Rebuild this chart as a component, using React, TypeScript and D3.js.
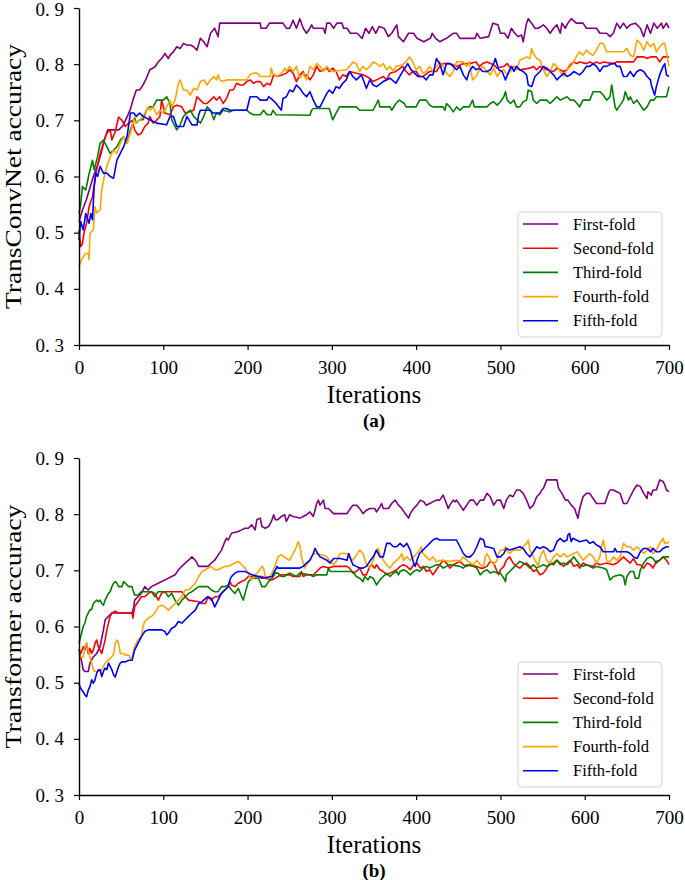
import React, { useEffect, useRef } from "react";
import * as d3 from "d3";

// ---- data: [iteration, accuracy] ----

const foldNames = ["First-fold", "Second-fold", "Third-fold", "Fourth-fold", "Fifth-fold"];
const foldColors = ["#800080", "#ff0000", "#008000", "#ffa500", "#0000ff"];
const xTicks = [0, 100, 200, 300, 400, 500, 600, 700];
const yTicks = [0.3, 0.4, 0.5, 0.6, 0.7, 0.8, 0.9];

// (a) TransConvNet
const convFirst = [[0,0.52],[4,0.54],[9,0.56],[13,0.58],[17,0.6],[22,0.62],[26,0.64],[30,0.665],[34,0.683],[47,0.683],[52,0.69],[57,0.706],[61,0.72],[64,0.736],[68,0.754],[72,0.754],[76,0.763],[80,0.775],[84,0.79],[90,0.795],[94,0.804],[98,0.81],[102,0.819],[106,0.81],[108,0.816],[112,0.822],[116,0.831],[120,0.828],[124,0.837],[128,0.834],[132,0.834],[136,0.831],[140,0.825],[144,0.846],[148,0.84],[152,0.831],[156,0.855],[161,0.864],[165,0.849],[167,0.873],[215,0.873],[216,0.864],[222,0.864],[226,0.873],[242,0.873],[246,0.864],[250,0.864],[254,0.878],[258,0.864],[262,0.881],[266,0.864],[270,0.855],[274,0.864],[276,0.87],[278,0.864],[290,0.864],[292,0.855],[294,0.873],[298,0.873],[302,0.864],[306,0.873],[312,0.873],[314,0.864],[318,0.864],[322,0.855],[330,0.855],[336,0.846],[340,0.864],[344,0.855],[348,0.867],[352,0.855],[356,0.867],[362,0.864],[367,0.849],[371,0.855],[377,0.87],[379,0.849],[385,0.84],[391,0.855],[397,0.855],[401,0.846],[409,0.84],[417,0.846],[419,0.855],[423,0.846],[428,0.84],[436,0.846],[444,0.855],[448,0.855],[452,0.846],[470,0.846],[472,0.855],[476,0.846],[486,0.849],[491,0.873],[497,0.87],[500,0.855],[505,0.855],[509,0.846],[513,0.864],[517,0.855],[521,0.849],[525,0.852],[527,0.84],[531,0.873],[533,0.881],[537,0.873],[541,0.864],[545,0.864],[551,0.87],[555,0.864],[559,0.855],[563,0.864],[567,0.87],[571,0.855],[573,0.873],[577,0.864],[580,0.873],[584,0.881],[590,0.873],[598,0.873],[602,0.864],[614,0.864],[618,0.855],[626,0.855],[630,0.849],[634,0.855],[638,0.873],[642,0.864],[646,0.873],[650,0.864],[654,0.87],[660,0.873],[666,0.864],[670,0.849],[674,0.87],[678,0.855],[682,0.873],[686,0.864],[691,0.873],[693,0.864],[697,0.873],[700,0.864]];
const convSecond = [[0,0.505],[2,0.475],[4,0.48],[6,0.5],[9,0.517],[12,0.546],[16,0.564],[20,0.605],[25,0.64],[29,0.66],[33,0.677],[37,0.683],[39,0.665],[43,0.68],[47,0.706],[51,0.7],[55,0.689],[59,0.695],[63,0.7],[66,0.683],[70,0.674],[74,0.677],[78,0.689],[82,0.695],[84,0.707],[88,0.695],[92,0.7],[96,0.707],[98,0.736],[102,0.713],[108,0.71],[112,0.724],[116,0.727],[122,0.724],[126,0.713],[130,0.715],[136,0.718],[140,0.742],[144,0.736],[148,0.73],[152,0.73],[156,0.736],[160,0.742],[163,0.736],[167,0.742],[171,0.73],[175,0.739],[179,0.754],[183,0.754],[187,0.766],[191,0.763],[195,0.763],[199,0.769],[203,0.772],[207,0.766],[211,0.769],[215,0.769],[219,0.76],[223,0.766],[227,0.763],[231,0.781],[235,0.778],[242,0.781],[246,0.784],[250,0.79],[254,0.784],[258,0.769],[260,0.775],[262,0.781],[266,0.787],[268,0.778],[270,0.781],[274,0.772],[278,0.781],[282,0.796],[286,0.787],[290,0.79],[294,0.793],[297,0.787],[301,0.793],[305,0.787],[309,0.772],[313,0.781],[317,0.778],[321,0.787],[329,0.784],[337,0.781],[341,0.778],[345,0.775],[349,0.769],[353,0.772],[361,0.778],[365,0.772],[369,0.784],[376,0.787],[384,0.796],[388,0.787],[392,0.781],[396,0.787],[400,0.787],[404,0.778],[408,0.778],[416,0.787],[424,0.787],[428,0.796],[432,0.801],[440,0.801],[448,0.796],[456,0.801],[463,0.801],[471,0.804],[475,0.796],[479,0.801],[484,0.804],[492,0.799],[496,0.793],[504,0.796],[508,0.801],[512,0.793],[516,0.796],[523,0.79],[535,0.793],[539,0.796],[543,0.79],[547,0.796],[555,0.79],[563,0.787],[567,0.793],[575,0.787],[579,0.79],[583,0.799],[587,0.804],[591,0.801],[594,0.804],[602,0.801],[606,0.804],[610,0.801],[614,0.804],[618,0.801],[622,0.804],[634,0.801],[638,0.804],[658,0.804],[662,0.813],[670,0.813],[674,0.81],[678,0.813],[685,0.813],[689,0.804],[693,0.813],[700,0.813]];
const convThird = [[0,0.534],[2,0.55],[4,0.582],[8,0.576],[12,0.605],[16,0.629],[18,0.612],[22,0.635],[25,0.659],[29,0.665],[33,0.653],[37,0.641],[41,0.647],[45,0.653],[49,0.665],[53,0.671],[57,0.659],[61,0.683],[64,0.695],[66,0.704],[68,0.695],[72,0.701],[76,0.701],[80,0.718],[84,0.724],[88,0.724],[92,0.736],[100,0.736],[104,0.742],[106,0.736],[108,0.73],[110,0.701],[112,0.695],[116,0.683],[120,0.692],[124,0.707],[128,0.713],[132,0.718],[136,0.707],[140,0.701],[144,0.695],[148,0.707],[152,0.724],[156,0.718],[160,0.701],[163,0.713],[167,0.71],[171,0.718],[179,0.715],[183,0.718],[199,0.718],[203,0.713],[207,0.71],[215,0.71],[219,0.718],[223,0.71],[228,0.71],[230,0.718],[234,0.71],[274,0.709],[276,0.718],[278,0.721],[297,0.721],[301,0.701],[305,0.713],[309,0.724],[329,0.724],[333,0.718],[349,0.718],[353,0.73],[355,0.736],[357,0.724],[369,0.724],[371,0.718],[376,0.73],[380,0.736],[386,0.73],[388,0.724],[400,0.724],[404,0.736],[412,0.736],[416,0.727],[420,0.724],[432,0.724],[434,0.718],[436,0.73],[440,0.724],[444,0.715],[448,0.724],[452,0.718],[456,0.724],[463,0.724],[467,0.736],[469,0.724],[484,0.724],[488,0.73],[492,0.733],[496,0.727],[500,0.733],[504,0.742],[506,0.751],[508,0.736],[512,0.73],[516,0.736],[519,0.724],[523,0.724],[527,0.733],[531,0.736],[533,0.754],[537,0.751],[539,0.736],[543,0.73],[547,0.736],[555,0.736],[559,0.73],[563,0.736],[567,0.742],[571,0.736],[579,0.742],[583,0.736],[587,0.736],[591,0.73],[594,0.724],[598,0.736],[606,0.736],[610,0.751],[618,0.751],[622,0.745],[626,0.736],[630,0.742],[632,0.763],[636,0.724],[638,0.718],[642,0.727],[646,0.736],[648,0.751],[652,0.736],[654,0.742],[658,0.73],[662,0.736],[666,0.727],[670,0.718],[674,0.724],[678,0.736],[682,0.736],[685,0.742],[697,0.742],[700,0.76]];
const convFourth = [[0,0.44],[3,0.452],[5,0.457],[8,0.463],[11,0.463],[12,0.452],[13,0.499],[17,0.505],[19,0.546],[21,0.535],[25,0.54],[27,0.576],[30,0.6],[33,0.618],[37,0.635],[41,0.647],[45,0.641],[49,0.659],[53,0.671],[57,0.659],[61,0.677],[65,0.701],[68,0.695],[72,0.701],[76,0.707],[80,0.718],[82,0.724],[84,0.718],[88,0.724],[92,0.71],[96,0.718],[100,0.713],[104,0.724],[108,0.736],[110,0.724],[114,0.736],[118,0.766],[120,0.772],[124,0.754],[128,0.754],[132,0.745],[136,0.757],[140,0.754],[144,0.769],[148,0.772],[152,0.763],[156,0.772],[160,0.778],[163,0.772],[165,0.781],[167,0.772],[171,0.769],[175,0.772],[199,0.772],[203,0.781],[207,0.784],[211,0.784],[215,0.778],[227,0.778],[228,0.793],[230,0.784],[234,0.778],[238,0.781],[242,0.787],[244,0.793],[246,0.787],[250,0.796],[254,0.787],[258,0.796],[262,0.775],[266,0.784],[270,0.772],[274,0.796],[278,0.79],[282,0.801],[286,0.796],[290,0.787],[294,0.796],[297,0.79],[301,0.787],[317,0.79],[321,0.796],[325,0.804],[329,0.801],[333,0.787],[337,0.796],[341,0.79],[345,0.796],[349,0.804],[353,0.801],[357,0.796],[361,0.801],[365,0.79],[369,0.796],[373,0.787],[376,0.796],[384,0.799],[388,0.804],[392,0.813],[396,0.804],[400,0.79],[404,0.796],[408,0.784],[412,0.787],[416,0.796],[420,0.787],[424,0.796],[428,0.804],[432,0.796],[436,0.784],[440,0.778],[444,0.787],[448,0.804],[456,0.804],[460,0.796],[463,0.804],[467,0.772],[471,0.778],[475,0.79],[479,0.796],[484,0.787],[488,0.781],[492,0.793],[496,0.778],[500,0.787],[504,0.79],[508,0.781],[512,0.787],[516,0.796],[519,0.79],[523,0.807],[527,0.81],[531,0.813],[535,0.81],[537,0.828],[539,0.819],[543,0.81],[547,0.807],[551,0.79],[555,0.778],[559,0.787],[563,0.801],[567,0.796],[571,0.787],[575,0.778],[579,0.79],[583,0.796],[587,0.804],[591,0.816],[594,0.822],[598,0.816],[602,0.825],[606,0.819],[610,0.816],[614,0.825],[618,0.837],[622,0.837],[626,0.822],[646,0.822],[650,0.828],[654,0.816],[658,0.813],[662,0.843],[666,0.837],[670,0.825],[674,0.84],[678,0.831],[682,0.837],[685,0.822],[689,0.831],[693,0.837],[695,0.837],[697,0.822],[700,0.796]];
const convFifth = [[0,0.487],[2,0.52],[5,0.505],[8,0.534],[12,0.517],[14,0.534],[16,0.523],[18,0.582],[20,0.606],[22,0.6],[25,0.618],[29,0.606],[33,0.606],[37,0.6],[41,0.597],[45,0.629],[49,0.641],[53,0.653],[57,0.671],[61,0.713],[65,0.713],[68,0.707],[72,0.713],[76,0.707],[84,0.701],[92,0.695],[104,0.692],[108,0.707],[112,0.707],[116,0.689],[124,0.689],[128,0.707],[134,0.692],[140,0.692],[142,0.71],[144,0.718],[155,0.718],[159,0.713],[167,0.713],[171,0.721],[175,0.721],[179,0.718],[199,0.718],[203,0.742],[211,0.742],[215,0.736],[223,0.736],[225,0.742],[230,0.736],[234,0.73],[240,0.718],[242,0.739],[246,0.742],[250,0.754],[254,0.751],[258,0.763],[262,0.757],[266,0.748],[270,0.742],[274,0.751],[278,0.736],[282,0.724],[286,0.724],[290,0.736],[294,0.748],[297,0.754],[301,0.748],[305,0.76],[309,0.757],[313,0.766],[317,0.772],[321,0.787],[325,0.778],[329,0.772],[335,0.781],[341,0.757],[345,0.772],[349,0.763],[353,0.76],[361,0.769],[369,0.775],[376,0.766],[384,0.787],[390,0.801],[394,0.79],[398,0.784],[402,0.778],[408,0.778],[412,0.772],[416,0.781],[420,0.781],[424,0.81],[428,0.801],[432,0.781],[436,0.801],[440,0.801],[444,0.796],[448,0.79],[452,0.796],[456,0.781],[460,0.772],[463,0.787],[467,0.796],[471,0.79],[475,0.793],[479,0.787],[484,0.787],[488,0.79],[492,0.801],[494,0.81],[498,0.79],[502,0.787],[506,0.772],[510,0.787],[513,0.796],[516,0.787],[519,0.796],[523,0.79],[527,0.787],[531,0.781],[533,0.763],[537,0.76],[541,0.778],[547,0.787],[551,0.796],[555,0.793],[559,0.787],[563,0.781],[567,0.772],[571,0.778],[575,0.784],[579,0.778],[583,0.781],[587,0.787],[594,0.781],[598,0.787],[602,0.796],[606,0.796],[610,0.801],[614,0.796],[618,0.787],[622,0.796],[626,0.796],[632,0.801],[636,0.801],[638,0.796],[642,0.796],[646,0.778],[650,0.778],[654,0.787],[658,0.778],[662,0.787],[666,0.79],[670,0.787],[674,0.778],[678,0.772],[679,0.763],[681,0.754],[683,0.745],[685,0.76],[689,0.781],[693,0.796],[695,0.801],[697,0.781],[700,0.778]];

// (b) Transformer
const tfFirst = [[0,0.56],[2,0.546],[5,0.523],[7,0.52],[11,0.52],[13,0.535],[17,0.546],[21,0.552],[25,0.564],[29,0.594],[31,0.612],[35,0.618],[39,0.624],[63,0.624],[65,0.635],[66,0.647],[70,0.653],[74,0.659],[78,0.671],[82,0.665],[86,0.671],[94,0.677],[98,0.68],[102,0.683],[110,0.689],[114,0.692],[118,0.701],[122,0.707],[126,0.713],[130,0.718],[134,0.724],[138,0.718],[142,0.707],[153,0.707],[157,0.713],[161,0.718],[165,0.727],[169,0.736],[173,0.751],[175,0.757],[177,0.754],[181,0.766],[189,0.769],[193,0.772],[197,0.775],[201,0.775],[205,0.781],[209,0.772],[211,0.79],[215,0.793],[217,0.778],[221,0.775],[225,0.778],[229,0.79],[231,0.799],[233,0.79],[236,0.79],[240,0.796],[244,0.799],[246,0.787],[248,0.793],[250,0.799],[254,0.796],[262,0.793],[266,0.796],[270,0.799],[274,0.804],[278,0.796],[280,0.807],[282,0.819],[284,0.825],[286,0.816],[290,0.825],[292,0.81],[296,0.81],[302,0.801],[318,0.801],[322,0.81],[325,0.816],[329,0.816],[333,0.81],[337,0.801],[341,0.807],[345,0.81],[351,0.81],[353,0.804],[357,0.813],[359,0.819],[361,0.81],[367,0.81],[371,0.819],[375,0.825],[379,0.816],[383,0.81],[387,0.801],[391,0.793],[393,0.801],[397,0.81],[401,0.816],[405,0.825],[409,0.822],[412,0.816],[416,0.819],[424,0.825],[428,0.825],[432,0.834],[436,0.819],[438,0.81],[440,0.816],[444,0.825],[446,0.822],[448,0.825],[452,0.816],[456,0.807],[460,0.816],[464,0.825],[468,0.825],[472,0.816],[476,0.825],[480,0.825],[484,0.837],[488,0.831],[492,0.816],[496,0.825],[500,0.825],[504,0.81],[507,0.825],[511,0.834],[515,0.831],[519,0.843],[523,0.843],[527,0.837],[531,0.825],[535,0.81],[539,0.816],[543,0.831],[547,0.837],[549,0.843],[551,0.846],[555,0.861],[567,0.861],[569,0.846],[573,0.837],[577,0.825],[580,0.825],[584,0.816],[588,0.81],[590,0.801],[592,0.793],[594,0.81],[598,0.831],[602,0.837],[606,0.837],[610,0.828],[614,0.819],[624,0.819],[628,0.837],[630,0.843],[634,0.843],[638,0.84],[642,0.837],[646,0.819],[650,0.819],[654,0.831],[658,0.843],[662,0.852],[666,0.849],[670,0.837],[674,0.828],[675,0.84],[679,0.834],[681,0.843],[685,0.843],[689,0.861],[693,0.858],[695,0.852],[697,0.843],[700,0.84]];
const tfSecond = [[0,0.558],[2,0.552],[5,0.564],[7,0.558],[9,0.57],[11,0.552],[13,0.561],[15,0.552],[17,0.558],[19,0.57],[21,0.576],[23,0.564],[25,0.558],[27,0.552],[29,0.564],[31,0.576],[33,0.594],[35,0.606],[37,0.618],[39,0.624],[43,0.627],[47,0.624],[63,0.624],[64,0.615],[66,0.635],[70,0.644],[74,0.653],[78,0.653],[82,0.659],[86,0.662],[90,0.659],[94,0.647],[98,0.659],[102,0.662],[122,0.662],[126,0.653],[130,0.647],[142,0.644],[146,0.641],[150,0.641],[153,0.653],[157,0.647],[161,0.653],[165,0.653],[169,0.659],[173,0.665],[177,0.671],[179,0.68],[181,0.674],[185,0.671],[189,0.677],[193,0.68],[197,0.683],[201,0.689],[217,0.689],[221,0.686],[229,0.683],[233,0.686],[236,0.689],[240,0.692],[250,0.692],[254,0.689],[262,0.689],[264,0.698],[266,0.689],[270,0.692],[278,0.692],[282,0.698],[286,0.704],[290,0.707],[296,0.704],[302,0.707],[318,0.707],[321,0.704],[325,0.695],[329,0.698],[333,0.704],[337,0.692],[341,0.692],[345,0.707],[347,0.71],[351,0.704],[353,0.71],[357,0.701],[361,0.698],[365,0.692],[369,0.695],[373,0.698],[377,0.701],[381,0.707],[385,0.71],[389,0.707],[393,0.701],[397,0.71],[401,0.713],[405,0.704],[409,0.707],[412,0.698],[416,0.701],[420,0.692],[424,0.701],[428,0.71],[432,0.718],[436,0.713],[440,0.704],[444,0.71],[448,0.713],[452,0.716],[456,0.71],[460,0.707],[464,0.71],[472,0.707],[476,0.704],[480,0.704],[484,0.707],[488,0.716],[492,0.713],[496,0.698],[498,0.692],[500,0.701],[504,0.707],[507,0.718],[511,0.724],[515,0.713],[519,0.707],[523,0.704],[527,0.71],[531,0.713],[535,0.707],[539,0.698],[543,0.701],[547,0.692],[551,0.695],[555,0.704],[559,0.713],[563,0.71],[567,0.718],[571,0.713],[575,0.707],[579,0.713],[583,0.718],[587,0.707],[591,0.71],[594,0.704],[598,0.713],[602,0.71],[610,0.707],[614,0.713],[618,0.71],[626,0.713],[634,0.71],[638,0.713],[642,0.718],[646,0.724],[650,0.718],[654,0.713],[658,0.721],[662,0.71],[666,0.71],[670,0.704],[674,0.713],[678,0.71],[681,0.704],[685,0.716],[689,0.718],[693,0.724],[697,0.718],[700,0.71]];
const tfThird = [[0,0.57],[3,0.588],[5,0.6],[7,0.606],[9,0.618],[11,0.624],[13,0.63],[15,0.63],[17,0.641],[19,0.644],[21,0.647],[23,0.644],[25,0.647],[27,0.641],[29,0.638],[31,0.647],[33,0.653],[35,0.659],[37,0.662],[39,0.671],[41,0.677],[43,0.68],[45,0.677],[47,0.671],[51,0.671],[53,0.68],[55,0.677],[59,0.671],[63,0.671],[64,0.665],[66,0.656],[70,0.656],[74,0.662],[86,0.662],[90,0.653],[94,0.662],[102,0.662],[106,0.653],[110,0.659],[114,0.647],[118,0.638],[122,0.647],[126,0.653],[130,0.659],[134,0.662],[142,0.671],[153,0.671],[157,0.665],[161,0.662],[165,0.662],[169,0.671],[173,0.671],[177,0.674],[181,0.665],[185,0.659],[189,0.668],[193,0.653],[195,0.647],[197,0.659],[201,0.68],[205,0.686],[213,0.686],[217,0.671],[221,0.671],[225,0.68],[229,0.686],[233,0.695],[236,0.695],[240,0.689],[244,0.689],[246,0.692],[250,0.695],[258,0.689],[262,0.695],[274,0.692],[278,0.689],[282,0.692],[294,0.692],[296,0.704],[298,0.698],[302,0.698],[325,0.698],[329,0.689],[333,0.686],[337,0.68],[339,0.689],[343,0.683],[345,0.689],[349,0.686],[353,0.674],[357,0.683],[361,0.689],[365,0.695],[369,0.689],[373,0.695],[377,0.698],[379,0.692],[381,0.698],[385,0.701],[389,0.698],[393,0.692],[397,0.698],[401,0.701],[404,0.698],[408,0.704],[412,0.707],[416,0.704],[420,0.707],[424,0.71],[428,0.71],[432,0.704],[436,0.707],[440,0.71],[452,0.707],[456,0.704],[460,0.71],[468,0.707],[472,0.704],[476,0.692],[480,0.698],[484,0.701],[488,0.695],[492,0.698],[496,0.695],[500,0.695],[504,0.686],[506,0.68],[507,0.692],[511,0.698],[515,0.704],[519,0.71],[523,0.716],[527,0.713],[531,0.71],[535,0.704],[539,0.71],[543,0.704],[547,0.707],[551,0.71],[555,0.707],[559,0.71],[563,0.713],[567,0.718],[571,0.71],[575,0.713],[579,0.71],[583,0.716],[587,0.724],[590,0.718],[594,0.71],[598,0.707],[602,0.71],[606,0.707],[610,0.704],[614,0.707],[622,0.704],[626,0.701],[628,0.692],[630,0.683],[634,0.689],[642,0.692],[646,0.689],[648,0.674],[650,0.689],[654,0.698],[658,0.698],[660,0.686],[664,0.686],[666,0.701],[670,0.713],[674,0.721],[678,0.724],[681,0.721],[685,0.713],[689,0.718],[693,0.724],[700,0.724]];
const tfFourth = [[0,0.552],[2,0.546],[5,0.546],[7,0.564],[9,0.57],[11,0.558],[13,0.546],[15,0.535],[17,0.523],[19,0.52],[23,0.52],[27,0.523],[31,0.535],[35,0.541],[39,0.546],[41,0.55],[43,0.57],[45,0.576],[47,0.57],[49,0.552],[53,0.552],[55,0.549],[59,0.549],[61,0.543],[63,0.546],[66,0.564],[70,0.576],[74,0.582],[76,0.6],[78,0.609],[82,0.615],[86,0.618],[90,0.624],[94,0.635],[98,0.638],[102,0.635],[106,0.629],[110,0.635],[114,0.641],[118,0.647],[122,0.653],[126,0.665],[130,0.665],[134,0.671],[138,0.677],[142,0.689],[146,0.698],[150,0.701],[153,0.704],[157,0.707],[161,0.701],[165,0.701],[169,0.704],[173,0.707],[177,0.707],[181,0.71],[185,0.713],[189,0.716],[193,0.71],[197,0.704],[201,0.695],[203,0.686],[205,0.683],[209,0.692],[213,0.698],[217,0.707],[219,0.704],[221,0.689],[225,0.686],[229,0.695],[233,0.71],[236,0.724],[240,0.728],[246,0.721],[250,0.718],[254,0.73],[258,0.742],[260,0.751],[262,0.745],[264,0.724],[266,0.713],[268,0.704],[270,0.71],[274,0.718],[278,0.73],[290,0.727],[294,0.724],[298,0.716],[302,0.71],[306,0.718],[310,0.73],[318,0.73],[321,0.724],[325,0.718],[329,0.727],[333,0.736],[337,0.73],[341,0.71],[345,0.704],[349,0.718],[353,0.736],[355,0.739],[357,0.73],[361,0.718],[365,0.71],[369,0.704],[373,0.713],[377,0.718],[381,0.724],[383,0.73],[385,0.718],[389,0.724],[393,0.718],[397,0.724],[401,0.73],[404,0.736],[406,0.742],[408,0.73],[412,0.724],[416,0.718],[420,0.724],[424,0.715],[428,0.718],[440,0.716],[448,0.718],[452,0.716],[456,0.724],[460,0.718],[464,0.713],[468,0.71],[472,0.718],[476,0.71],[480,0.707],[482,0.724],[484,0.73],[488,0.718],[492,0.71],[496,0.718],[498,0.73],[500,0.736],[504,0.736],[506,0.742],[507,0.736],[511,0.73],[515,0.736],[523,0.736],[527,0.742],[531,0.748],[533,0.754],[535,0.736],[539,0.724],[543,0.713],[545,0.707],[547,0.724],[551,0.736],[555,0.718],[559,0.713],[563,0.724],[567,0.73],[571,0.724],[575,0.73],[579,0.724],[583,0.727],[587,0.73],[591,0.733],[594,0.727],[598,0.718],[602,0.724],[606,0.73],[610,0.724],[614,0.713],[618,0.724],[620,0.742],[622,0.754],[624,0.739],[626,0.718],[630,0.715],[634,0.724],[638,0.718],[642,0.724],[646,0.748],[650,0.742],[654,0.742],[658,0.736],[662,0.742],[666,0.736],[670,0.73],[674,0.736],[678,0.742],[681,0.73],[685,0.736],[689,0.748],[693,0.757],[695,0.748],[697,0.748],[700,0.751]];
const tfFifth = [[0,0.499],[1,0.493],[3,0.487],[5,0.484],[7,0.478],[9,0.475],[11,0.487],[13,0.493],[15,0.505],[17,0.499],[19,0.505],[21,0.517],[23,0.523],[25,0.523],[27,0.511],[29,0.52],[31,0.526],[33,0.523],[35,0.535],[37,0.529],[39,0.523],[41,0.514],[43,0.51],[45,0.52],[47,0.529],[49,0.535],[51,0.537],[55,0.537],[59,0.54],[63,0.54],[64,0.546],[66,0.558],[70,0.57],[74,0.582],[78,0.591],[82,0.594],[98,0.594],[102,0.591],[104,0.585],[106,0.588],[110,0.597],[114,0.6],[118,0.609],[122,0.606],[126,0.612],[130,0.618],[134,0.624],[138,0.629],[142,0.641],[146,0.644],[150,0.65],[153,0.653],[157,0.65],[161,0.635],[165,0.647],[169,0.659],[173,0.665],[177,0.671],[179,0.683],[181,0.689],[185,0.695],[189,0.698],[197,0.698],[201,0.695],[205,0.692],[213,0.689],[217,0.686],[229,0.689],[233,0.701],[235,0.707],[236,0.704],[262,0.704],[266,0.707],[270,0.713],[274,0.718],[278,0.73],[280,0.739],[282,0.733],[286,0.724],[290,0.721],[294,0.718],[298,0.713],[302,0.721],[310,0.721],[318,0.718],[320,0.73],[322,0.721],[325,0.71],[329,0.707],[333,0.704],[337,0.704],[341,0.707],[345,0.716],[349,0.724],[353,0.736],[357,0.724],[361,0.724],[365,0.748],[369,0.748],[373,0.742],[377,0.742],[381,0.748],[385,0.742],[389,0.748],[393,0.736],[397,0.713],[399,0.707],[401,0.718],[404,0.73],[408,0.736],[412,0.742],[416,0.748],[420,0.754],[424,0.757],[428,0.754],[448,0.754],[452,0.742],[456,0.73],[460,0.724],[464,0.724],[468,0.73],[472,0.742],[476,0.757],[480,0.754],[482,0.742],[484,0.742],[492,0.739],[496,0.724],[500,0.724],[504,0.73],[507,0.739],[511,0.736],[523,0.742],[527,0.739],[531,0.73],[535,0.724],[539,0.733],[543,0.742],[547,0.739],[551,0.742],[555,0.739],[559,0.733],[563,0.736],[567,0.751],[571,0.757],[575,0.751],[579,0.754],[580,0.763],[582,0.766],[584,0.751],[586,0.757],[590,0.754],[594,0.751],[602,0.754],[606,0.748],[610,0.751],[614,0.745],[618,0.742],[622,0.733],[634,0.733],[636,0.739],[638,0.733],[650,0.733],[654,0.73],[658,0.724],[662,0.721],[666,0.733],[670,0.739],[674,0.739],[678,0.733],[681,0.739],[685,0.733],[689,0.733],[693,0.739],[697,0.742],[700,0.742]];

const convSeries = [convFirst, convSecond, convThird, convFourth, convFifth];
const tfSeries = [tfFirst, tfSecond, tfThird, tfFourth, tfFifth];

// ---- layout ----
const W = 685;
const H = 880;
const plotLeft = 79;
const plotRight = 669;
const plotH = 337;
const serif = "'Liberation Serif', 'Times New Roman', serif";

const Panel = ({ series, top, yLabel, yLabelLength, tag }) => {
  const ref = useRef(null);

  useEffect(() => {
    const g = d3.select(ref.current);
    g.selectAll("*").remove();

    const x = d3.scaleLinear().domain([0, 700]).range([plotLeft, plotRight]);
    const y = d3.scaleLinear().domain([0.3, 0.9]).range([top + plotH, top]);

    const line = d3.line()
      .x((d) => x(d[0]))
      .y((d) => y(d[1]));

    g.selectAll(".fold")
      .data(series)
      .join("path")
      .attr("class", "fold")
      .attr("d", line)
      .attr("fill", "none")
      .attr("stroke", (d, i) => foldColors[i])
      .attr("stroke-width", 1.6)
      .attr("stroke-linejoin", "round");

    // axes
    const xAxis = g.append("g")
      .attr("transform", `translate(0,${y(0.3)})`)
      .call(d3.axisBottom(x).tickValues(xTicks).tickSize(5).tickSizeOuter(0).tickPadding(11));

    const yAxis = g.append("g")
      .attr("transform", `translate(${x(0)},0)`)
      .call(d3.axisLeft(y).tickValues(yTicks).tickSize(5).tickSizeOuter(0).tickPadding(10)
        .tickFormat((d) => d3.format(".1f")(d).replace(".", ". ")));

    [xAxis, yAxis].forEach((ax) => {
      ax.select(".domain").attr("stroke", "#000").attr("stroke-width", 1.4);
      ax.selectAll(".tick line").attr("stroke", "#000").attr("stroke-width", 1.2);
      ax.selectAll(".tick text")
        .attr("fill", "#000")
        .style("font-family", serif)
        .style("font-size", "19px");
    });
    // keep the top tick label inside the picture
    yAxis.selectAll(".tick text").attr("dy", (d) => (d === 0.9 && top < 20 ? "0.42em" : "0.32em"));

    // axis titles
    g.append("text")
      .attr("x", (plotLeft + plotRight) / 2)
      .attr("y", top + plotH + 58)
      .attr("text-anchor", "middle")
      .style("font-family", serif)
      .style("font-size", "25px")
      .text("Iterations");

    g.append("text")
      .attr("x", (plotLeft + plotRight) / 2)
      .attr("y", top + plotH + 82)
      .attr("text-anchor", "middle")
      .style("font-family", serif)
      .style("font-size", "19px")
      .style("font-weight", "bold")
      .text(tag);

    const cy = top + plotH / 2;
    g.append("text")
      .attr("transform", `translate(21,${cy}) rotate(-90)`)
      .attr("text-anchor", "middle")
      .attr("textLength", yLabelLength)
      .attr("lengthAdjust", "spacingAndGlyphs")
      .style("font-family", serif)
      .style("font-size", "24px")
      .text(yLabel);

    // legend
    const lg = g.append("g").attr("transform", `translate(518,${top + 204})`);
    lg.append("rect")
      .attr("width", 144)
      .attr("height", 125)
      .attr("rx", 4)
      .attr("fill", "#fff")
      .attr("fill-opacity", 0.85)
      .attr("stroke", "#d4d4d4")
      .attr("stroke-width", 1);

    const rows = lg.selectAll(".row")
      .data(foldNames)
      .join("g")
      .attr("class", "row")
      .attr("transform", (d, i) => `translate(0,${12 + i * 24.2})`);

    rows.append("line")
      .attr("x1", 5)
      .attr("x2", 40)
      .attr("stroke", (d, i) => foldColors[i])
      .attr("stroke-width", 1.6);

    rows.append("text")
      .attr("x", 55)
      .attr("y", 5.5)
      .style("font-family", serif)
      .style("font-size", "16.5px")
      .text((d) => d);
  }, [series, top, yLabel, yLabelLength, tag]);

  return <g ref={ref} />;
};

export default function App() {
  return (
    <div style={{ position: "absolute", left: 0, top: 0 }}>
      <svg width={W} height={H} style={{ display: "block", background: "#fff" }}>
        <Panel series={convSeries} top={8} yLabel="TransConvNet accuracy" yLabelLength={265} tag="(a)" />
        <Panel series={tfSeries} top={458} yLabel="Transformer accuracy" yLabelLength={244} tag="(b)" />
      </svg>
    </div>
  );
}
